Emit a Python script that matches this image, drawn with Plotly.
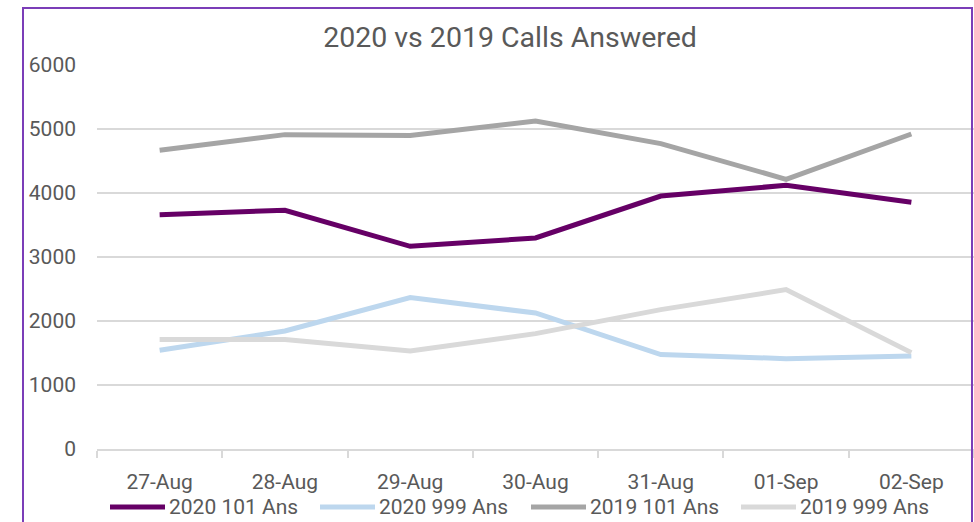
import plotly.graph_objects as go

dates = ["27-Aug", "28-Aug", "29-Aug", "30-Aug", "31-Aug", "01-Sep", "02-Sep"]
ans_101_2020 = [3662, 3730, 3167, 3297, 3953, 4120, 3855]
ans_999_2020 = [1542, 1844, 2366, 2125, 1475, 1412, 1453]
ans_101_2019 = [4667, 4912, 4897, 5125, 4772, 4214, 4922]
ans_999_2019 = [1709, 1709, 1531, 1803, 2178, 2490, 1506]

series_names = ["2020 101 Ans", "2020 999 Ans", "2019 101 Ans", "2019 999 Ans"]
series_vals = [ans_101_2020, ans_999_2020, ans_101_2019, ans_999_2019]
series_colors = ["#660066", "#BDD7EE", "#A5A5A5", "#D9D9D9"]

FONT = "Roboto, sans-serif"
TXT = "#595959"

W, H = 974, 522
L, T, B = 97, 65, 73
PW, PH = W - L, H - T - B


def px_x(x):
    return (x - L) / PW


def px_y(y):
    return (H - B - y) / PH


fig = go.Figure()
for name, vals, color in zip(series_names, series_vals, series_colors):
    fig.add_trace(go.Scatter(x=dates, y=vals, name=name, mode="lines",
                             line=dict(color=color, width=5),
                             cliponaxis=False, showlegend=False))

fig.update_layout(
    width=W, height=H,
    margin=dict(l=L, r=0, t=T, b=B, autoexpand=False),
    paper_bgcolor="white", plot_bgcolor="white",
    font=dict(family=FONT, color=TXT, size=21),
    title=dict(text="2020 vs 2019 Calls Answered", xref="container", yref="container",
               x=510 / W, xanchor="center", y=1 - 37 / H, yanchor="middle",
               font=dict(family=FONT, size=28.5, color=TXT)),
    showlegend=False,
    xaxis=dict(type="category", range=[-0.5, 6.5], showgrid=False,
               showline=True, linecolor="#D9D9D9", linewidth=1.5,
               ticks="outside", ticklen=7, tickcolor="#D9D9D9", tickwidth=1.5,
               tickson="boundaries", ticklabelstandoff=13,
               tickfont=dict(size=21, color=TXT)),
    yaxis=dict(range=[0, 6000], dtick=1000, showgrid=True,
               gridcolor="#D9D9D9", gridwidth=1.5, zeroline=False,
               showline=False, ticks="", ticklabelstandoff=20,
               tickfont=dict(size=21, color=TXT)),
)

# manual legend (long line samples like the original)
legend_x = [110, 320, 531, 741]
legend_y = 507
for x0, name, color in zip(legend_x, series_names, series_colors):
    fig.add_shape(type="line", xref="paper", yref="paper",
                  x0=px_x(x0), x1=px_x(x0 + 55), y0=px_y(legend_y), y1=px_y(legend_y),
                  line=dict(color=color, width=5))
    fig.add_annotation(text=name, xref="paper", yref="paper",
                       x=px_x(x0 + 57), y=px_y(legend_y), xanchor="left", yanchor="middle",
                       showarrow=False, font=dict(size=21, color=TXT, family=FONT))

# chart border (purple frame)
fig.add_shape(type="rect", xref="paper", yref="paper",
              x0=px_x(23), x1=px_x(972), y0=px_y(540), y1=px_y(8),
              line=dict(color="#7B3DB8", width=2), fillcolor="rgba(0,0,0,0)",
              layer="above")

fig.write_html("out.html", config={"displayModeBar": False},
               post_script="document.body.style.margin='0';document.body.style.overflow='hidden';")
